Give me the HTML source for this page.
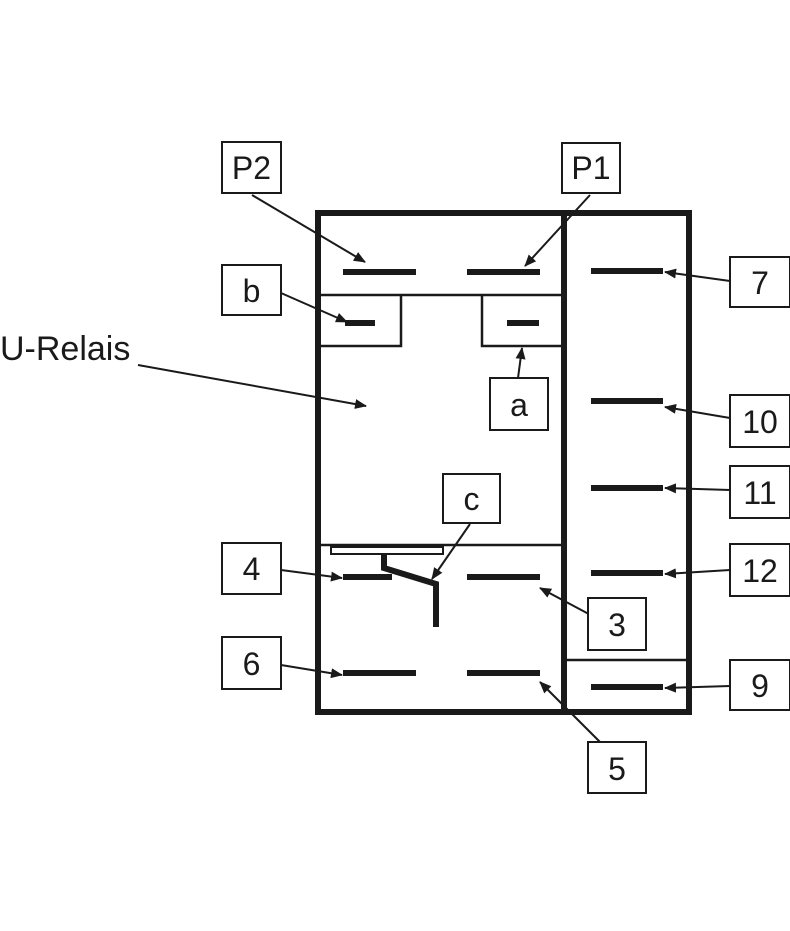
<!DOCTYPE html>
<html><head><meta charset="utf-8"><style>html,body{margin:0;padding:0;background:#fff;}svg{display:block}</style></head>
<body>
<svg width="790" height="931" viewBox="0 0 790 931" xmlns="http://www.w3.org/2000/svg" font-family="Liberation Sans, sans-serif">
<defs>
<marker id="ah" markerWidth="12" markerHeight="10" refX="11" refY="5" orient="auto" markerUnits="userSpaceOnUse">
<path d="M0,0 L12,5 L0,10 Z" fill="#1a1a1a"/>
</marker>
</defs>
<g fill="none" stroke="#1a1a1a">
<rect x="318" y="213" width="371" height="499" stroke-width="6"/>
<line x1="564" y1="211" x2="564" y2="714" stroke-width="6"/>
<line x1="318" y1="295" x2="564" y2="295" stroke-width="2.5"/>
<line x1="318" y1="545" x2="564" y2="545" stroke-width="2.5"/>
<line x1="564" y1="660" x2="689" y2="660" stroke-width="2.5"/>
<polyline points="401,295 401,346 319,346" stroke-width="2.5"/>
<polyline points="482,295 482,346 561,346" stroke-width="2.5"/>
<rect x="331" y="547" width="112" height="7" stroke-width="2"/>
</g>
<g stroke="#1a1a1a" stroke-width="6" fill="none">
<line x1="343" y1="272" x2="416" y2="272"/>
<line x1="467" y1="272" x2="540" y2="272"/>
<line x1="345" y1="323" x2="375" y2="323"/>
<line x1="507" y1="323" x2="539" y2="323"/>
<line x1="591" y1="271" x2="663" y2="271"/>
<line x1="591" y1="401" x2="663" y2="401"/>
<line x1="591" y1="488" x2="663" y2="488"/>
<line x1="591" y1="573" x2="663" y2="573"/>
<line x1="591" y1="687" x2="663" y2="687"/>
<line x1="343" y1="577" x2="392" y2="577"/>
<polyline points="384,555 384,568 436,584 436,627"/>
<line x1="467" y1="577" x2="540" y2="577"/>
<line x1="343" y1="673" x2="416" y2="673"/>
<line x1="467" y1="673" x2="540" y2="673"/>
</g>
<g stroke="#1a1a1a" stroke-width="2" fill="none" marker-end="url(#ah)">
<line x1="252" y1="195" x2="365" y2="262"/>
<line x1="590" y1="195" x2="525" y2="266"/>
<line x1="281" y1="293" x2="347" y2="322"/>
<line x1="518" y1="378" x2="522" y2="348"/>
<line x1="138" y1="365" x2="366" y2="406"/>
<line x1="730" y1="281" x2="665" y2="272"/>
<line x1="730" y1="418" x2="665" y2="407"/>
<line x1="730" y1="490" x2="665" y2="488"/>
<line x1="730" y1="570" x2="665" y2="574"/>
<line x1="730" y1="686" x2="665" y2="688"/>
<line x1="281" y1="570" x2="342" y2="578"/>
<line x1="281" y1="665" x2="342" y2="675"/>
<line x1="470" y1="524" x2="432" y2="579"/>
<line x1="600" y1="620" x2="540" y2="588"/>
<line x1="600" y1="742" x2="540" y2="682"/>
</g>
<g fill="#fff" stroke="#1a1a1a" stroke-width="2">
<rect x="222" y="142" width="59" height="51"/>
<rect x="562" y="143" width="58" height="50"/>
<rect x="222" y="265" width="59" height="50"/>
<rect x="490" y="378" width="58" height="52"/>
<rect x="730" y="257" width="60" height="50"/>
<rect x="730" y="395" width="60" height="52"/>
<rect x="730" y="466" width="60" height="52"/>
<rect x="730" y="544" width="60" height="52"/>
<rect x="730" y="660" width="60" height="50"/>
<rect x="443" y="474" width="57" height="49"/>
<rect x="222" y="543" width="59" height="51"/>
<rect x="222" y="637" width="59" height="52"/>
<rect x="588" y="598" width="58" height="52"/>
<rect x="588" y="742" width="58" height="51"/>
</g>
<g font-size="32" fill="#1a1a1a" text-anchor="middle">
<text x="251.5" y="179">P2</text>
<text x="591" y="179">P1</text>
<text x="251.5" y="302">b</text>
<text x="519" y="416">a</text>
<text x="760" y="294">7</text>
<text x="760" y="433">10</text>
<text x="760" y="504">11</text>
<text x="760" y="582">12</text>
<text x="760" y="697">9</text>
<text x="471.5" y="510">c</text>
<text x="251.5" y="580">4</text>
<text x="251.5" y="675">6</text>
<text x="617" y="636">3</text>
<text x="617" y="780">5</text>
<text x="0" y="360" text-anchor="start" font-size="34">U-Relais</text>
</g>
</svg>
</body></html>
